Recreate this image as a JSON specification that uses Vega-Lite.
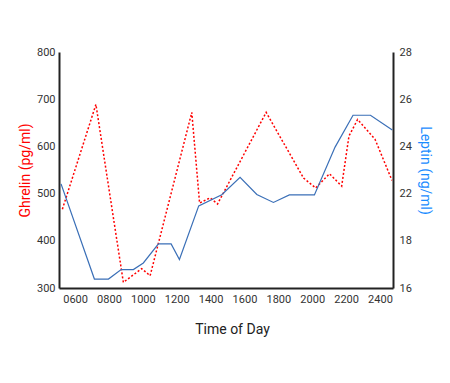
{
  "$schema": "https://vega.github.io/schema/vega-lite/v6.json",
  "autosize": {"type": "none"},
  "padding": {"left": 59, "top": 52, "right": 57, "bottom": 95},
  "width": 334,
  "height": 236,
  "background": "white",
  "config": {
    "font": "Roboto",
    "view": {"stroke": null},
    "axis": {
      "grid": false,
      "ticks": false,
      "tickSize": 0,
      "domainColor": "#222222",
      "domainWidth": 2,
      "labelFontSize": 11,
      "labelColor": "#333333",
      "titleFontSize": 14,
      "titleFontWeight": "normal"
    },
    "axisX": {"labelOverlap": false, "labelSeparation": 0}
  },
  "datasets": {
    "ghrelin": [
      {"time": 5.25, "ghrelin": 467},
      {"time": 7.23, "ghrelin": 689},
      {"time": 8.85, "ghrelin": 312},
      {"time": 9.93, "ghrelin": 341},
      {"time": 10.43, "ghrelin": 326},
      {"time": 12.89, "ghrelin": 672},
      {"time": 13.35, "ghrelin": 480},
      {"time": 13.97, "ghrelin": 491},
      {"time": 14.41, "ghrelin": 478},
      {"time": 17.28, "ghrelin": 672},
      {"time": 19.49, "ghrelin": 533},
      {"time": 20.2, "ghrelin": 512},
      {"time": 21.02, "ghrelin": 542},
      {"time": 21.74, "ghrelin": 516},
      {"time": 22.17, "ghrelin": 622},
      {"time": 22.68, "ghrelin": 657},
      {"time": 23.71, "ghrelin": 615},
      {"time": 24.71, "ghrelin": 528}
    ],
    "leptin": [
      {"time": 5.17, "leptin": 22.41},
      {"time": 7.14, "leptin": 16.38},
      {"time": 7.97, "leptin": 16.38},
      {"time": 8.72, "leptin": 16.78},
      {"time": 9.44, "leptin": 16.78},
      {"time": 10.03, "leptin": 17.06},
      {"time": 10.92, "leptin": 17.87},
      {"time": 11.67, "leptin": 17.87},
      {"time": 12.16, "leptin": 17.21},
      {"time": 13.3, "leptin": 20.96},
      {"time": 14.66, "leptin": 21.9},
      {"time": 15.74, "leptin": 22.69},
      {"time": 16.73, "leptin": 21.93},
      {"time": 17.71, "leptin": 21.25},
      {"time": 18.65, "leptin": 21.89},
      {"time": 20.13, "leptin": 21.89},
      {"time": 21.35, "leptin": 23.97},
      {"time": 22.41, "leptin": 25.32},
      {"time": 23.44, "leptin": 25.32},
      {"time": 24.73, "leptin": 24.7}
    ]
  },
  "encoding": {
    "x": {
      "field": "time",
      "type": "quantitative",
      "scale": {"domain": [5.05, 24.77], "nice": false, "zero": false},
      "axis": {
        "title": "Time of Day",
        "values": [6, 8, 10, 12, 14, 16, 18, 20, 22, 24],
        "labelExpr": "format(datum.value * 100, '04d')",
        "labelOverlap": false,
        "labelPadding": 5,
        "titlePadding": 18,
        "titleColor": "#222222",
        "titleX": 173
      }
    }
  },
  "layer": [
    {
      "data": {"name": "ghrelin"},
      "mark": {"type": "line", "color": "#ff0000", "strokeWidth": 1.5, "strokeDash": [2, 2]},
      "encoding": {
        "y": {
          "field": "ghrelin",
          "type": "quantitative",
          "scale": {"domain": [300, 800], "nice": false, "zero": false},
          "axis": {
            "title": "Ghrelin (pg/ml)",
            "titleColor": "#ff0000",
            "values": [300, 400, 500, 600, 700, 800],
            "labelPadding": 4,
            "titlePadding": 4
          }
        }
      }
    },
    {
      "data": {"name": "leptin"},
      "mark": {"type": "line", "color": "#3a6fb7", "strokeWidth": 1.2},
      "encoding": {
        "y": {
          "field": "leptin",
          "type": "quantitative",
          "scale": {"type": "linear", "domain": [16, 18, 22, 28], "range": [236, 188.8, 141.6, 0], "nice": false, "zero": false},
          "axis": {
            "orient": "right",
            "title": "Leptin (ng/ml)",
            "titleColor": "#1a8cff",
            "values": [16, 18, 22, 24, 26, 28],
            "labelPadding": 6,
            "titlePadding": 6
          }
        }
      }
    }
  ],
  "resolve": {"scale": {"y": "independent"}}
}
